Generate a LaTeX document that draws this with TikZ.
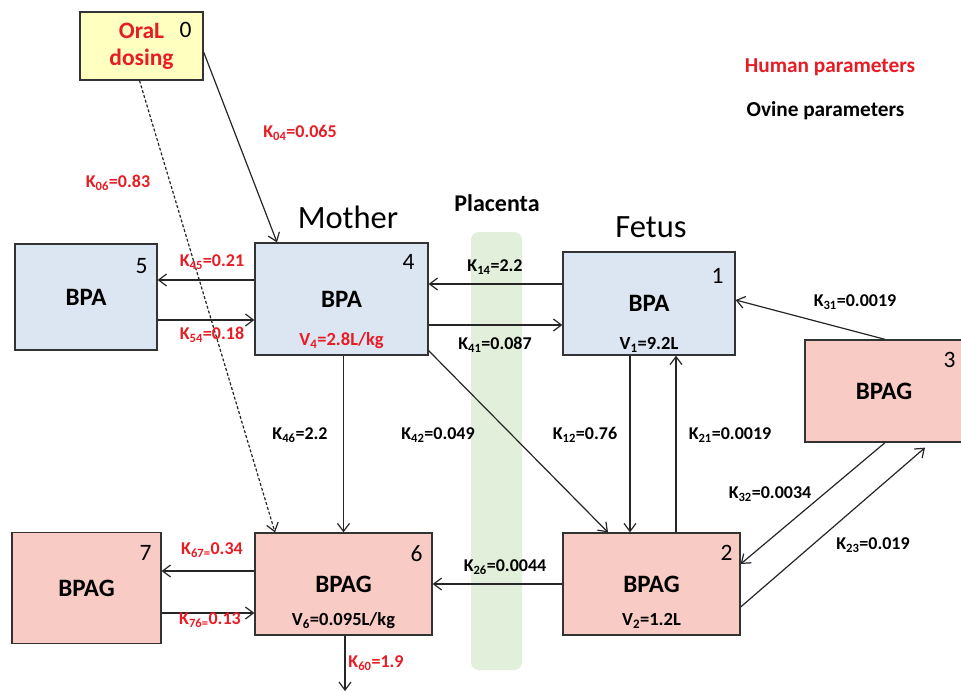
\documentclass[tikz,border=0pt]{standalone}
\usepackage{fontspec}
\setmainfont{Carlito}
\usepackage{tikz}
\usetikzlibrary{arrows.meta}
\definecolor{parred}{RGB}{232,28,36}
\definecolor{bpablue}{RGB}{220,230,242}
\definecolor{bpagpink}{RGB}{248,203,196}
\definecolor{doseyellow}{RGB}{255,255,192}
\definecolor{placentagreen}{RGB}{226,239,218}
\tikzstyle{compartment} = [rectangle, draw=black!80, line width=1.3pt, text centered, inner sep=0pt, font=\fontsize{25}{28}\selectfont\bfseries]
\tikzstyle{bpabox} = [compartment, fill=bpablue]
\tikzstyle{bpagbox} = [compartment, fill=bpagpink]
\tikzstyle{dosebox} = [compartment, fill=doseyellow, text=parred, align=center, font=\fontsize{23.5}{27}\selectfont\bfseries]
\tikzstyle{cmpno} = [inner sep=0pt, anchor=north east, font=\fontsize{23.5}{26}\selectfont]
\tikzstyle{vlabel} = [inner sep=0pt, font=\fontsize{18.5}{22}\selectfont\bfseries]
\tikzstyle{klabel} = [inner sep=0pt, font=\fontsize{18}{21}\selectfont\bfseries]
\tikzstyle{heading} = [inner sep=0pt, font=\fontsize{32.5}{38}\selectfont]
\tikzstyle{legend} = [inner sep=0pt, font=\fontsize{21.3}{25}\selectfont\bfseries]
\tikzstyle{connector} = [line width=1.2pt, draw=black!85, -{Straight Barb[length=8pt,width=12pt]}]
\newcommand{\rk}[2]{K\textsubscript{#1}=#2}

\begin{document}
\begin{tikzpicture}[x=1pt, y=-1pt]
        \useasboundingbox [fill=white] (0,0) rectangle (961,691);
        \node (placenta) [fill=placentagreen, rounded corners=8pt, minimum width=51pt, minimum height=438pt] at (496.5,451) {};
        % compartments
        \node (m0) [dosebox, minimum width=123pt, minimum height=68pt] at (141.5,46) {OraL\\dosing};
        \node (m5) [bpabox, minimum width=142pt, minimum height=106pt] at (86,297) {BPA};
        \node (m4) [bpabox, minimum width=173pt, minimum height=112pt] at (341.5,299) {BPA};
        \node (m1) [bpabox, minimum width=172pt, minimum height=103pt] at (649,303.5) {BPA};
        \node (m3) [bpagbox, minimum width=158pt, minimum height=102pt] at (884,391) {BPAG};
        \node (m7) [bpagbox, minimum width=149pt, minimum height=111pt] at (86.5,588) {BPAG};
        \node (m6) [bpagbox, minimum width=177pt, minimum height=102pt] at (343.5,584) {BPAG};
        \node (m2) [bpagbox, minimum width=177pt, minimum height=102pt] at (651.5,584) {BPAG};
        \coordinate (elim) at (343.5,691);
        % compartment numbers
        \node (i0) [cmpno] at ([xshift=-12pt,yshift=-11pt]m0.north east) {0};
        \node (i5) [cmpno] at ([xshift=-10pt,yshift=-15pt]m5.north east) {5};
        \node (i4) [cmpno] at ([xshift=-14pt,yshift=-12pt]m4.north east) {4};
        \node (i1) [cmpno] at ([xshift=-12pt,yshift=-17pt]m1.north east) {1};
        \node (i3) [cmpno] at ([xshift=-8pt,yshift=-13pt]m3.north east) {3};
        \node (i7) [cmpno] at ([xshift=-10pt,yshift=-13pt]m7.north east) {7};
        \node (i6) [cmpno] at ([xshift=-10pt,yshift=-13pt]m6.north east) {6};
        \node (i2) [cmpno] at ([xshift=-8pt,yshift=-13pt]m2.north east) {2};
        % volumes
        \node (v4) [vlabel, text=parred] at ([yshift=15pt]m4.south) {V\textsubscript{4}=2.8L/kg};
        \node (v1) [vlabel] at ([yshift=11pt]m1.south) {V\textsubscript{1}=9.2L};
        \node (v6) [vlabel] at ([yshift=15pt]m6.south) {V\textsubscript{6}=0.095L/kg};
        \node (v2) [vlabel] at ([yshift=15pt]m2.south) {V\textsubscript{2}=1.2L};
        % headings
        \node (mother) [heading] at (348,217) {Mother};
        \node (fetus) [heading] at (651,227) {Fetus};
        \node (placenta-title) [legend, font=\fontsize{24}{28}\selectfont\bfseries] at (497,203) {Placenta};
        \node (human) [legend, text=parred] at (830,67) {Human parameters};
        \node (ovine) [legend] at (825.5,111) {Ovine parameters};
        % transfers
        \draw [connector] ([yshift=-6pt]m0.east) -- ([xshift=-64.5pt]m4.north);
        \draw [connector, dash pattern=on 3pt off 2pt] ([xshift=-2pt]m0.south) -- ([xshift=-68.5pt]m6.north);
        \draw [connector] ([yshift=19pt]m4.west) -- ([yshift=17pt]m5.east);
        \draw [connector] ([yshift=-23pt]m5.east) -- ([yshift=-21pt]m4.west);
        \draw [connector] ([yshift=19.5pt]m1.west) -- ([yshift=15pt]m4.east);
        \draw [connector] ([yshift=-26pt]m4.east) -- ([yshift=-21.5pt]m1.west);
        \draw [connector] ([xshift=2pt]m4.south) -- ([xshift=2pt]m4.south |- m6.north);
        \draw [connector] ([yshift=5pt]m4.south east) -- ([xshift=-43.5pt]m2.north);
        \draw [connector] ([xshift=-19pt]m1.south) -- ([xshift=-19pt]m1.south |- m2.north);
        \draw [connector] ([xshift=24.5pt]m2.north) -- ([xshift=24.5pt]m2.north |- m1.south);
        \draw [connector] ([xshift=1pt]m3.north) -- ([yshift=3.5pt]m1.east);
        \draw [connector] ([xshift=1pt]m3.south) -- ([yshift=20pt]m2.east);
        \draw [connector] ([yshift=-23pt]m2.east) -- ([xshift=41pt,yshift=-5pt]m3.south);
        \draw [connector] (m2.west) -- (m6.east);
        \draw [connector] ([yshift=13pt]m6.west) -- ([yshift=17pt]m7.east);
        \draw [connector] ([yshift=-25pt]m7.east) -- ([yshift=-29pt]m6.west);
        \draw [connector] ([xshift=1.5pt]m6.south) -- ([xshift=1.5pt]elim);
        % rate constants
        \node (k04) [klabel, text=parred] at (300,133) {\rk{04}{0.065}};
        \node (k06) [klabel, text=parred] at (118,183) {\rk{06}{0.83}};
        \node (k45) [klabel, text=parred] at (212,262) {\rk{45}{0.21}};
        \node (k54) [klabel, text=parred] at (212,335) {\rk{54}{0.18}};
        \node (k14) [klabel] at (495,267) {\rk{14}{2.2}};
        \node (k41) [klabel] at (495,345) {\rk{41}{0.087}};
        \node (k46) [klabel] at (300,435) {\rk{46}{2.2}};
        \node (k42) [klabel] at (438,435) {\rk{42}{0.049}};
        \node (k12) [klabel] at (585,435) {\rk{12}{0.76}};
        \node (k21) [klabel] at (730,435) {\rk{21}{0.0019}};
        \node (k31) [klabel] at (855,302) {\rk{31}{0.0019}};
        \node (k32) [klabel] at (770,494) {\rk{32}{0.0034}};
        \node (k23) [klabel] at (873,545) {\rk{23}{0.019}};
        \node (k26) [klabel] at (505,567) {\rk{26}{0.0044}};
        \node (k67) [klabel, text=parred] at (212,550) {K\textsubscript{67=}0.34};
        \node (k76) [klabel, text=parred] at (210,620) {K\textsubscript{76=}0.13};
        \node (k60) [klabel, text=parred] at (376,663) {\rk{60}{1.9}};
\end{tikzpicture}
\end{document}
